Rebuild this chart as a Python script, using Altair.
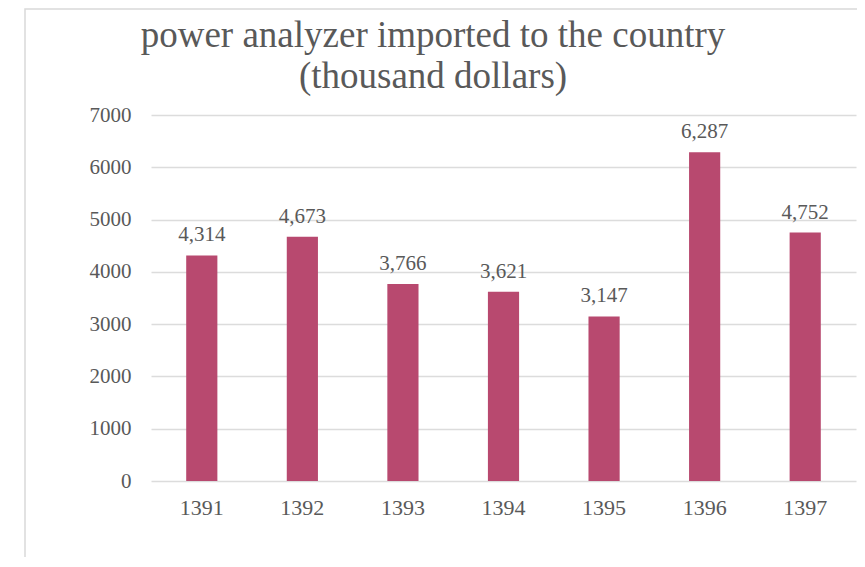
import altair as alt
import pandas as pd

years = ["1391", "1392", "1393", "1394", "1395", "1396", "1397"]
values = [4314, 4673, 3766, 3621, 3147, 6287, 4752]
title_lines = ["power analyzer imported to the country", "(thousand dollars)"]

df = pd.DataFrame({"year": years, "value": values})

FONT = "Liberation Serif"
GRAY = "#595959"

base = alt.Chart(df)

x = alt.X("year:N", sort=years, title=None,
          scale=alt.Scale(paddingInner=0.69, paddingOuter=0.35, round=False),
          axis=alt.Axis(labelAngle=0, labelFont=FONT, labelFontSize=22,
                        labelColor=GRAY, ticks=False, domain=False,
                        labelPadding=16))
y = alt.Y("value:Q", title=None,
          scale=alt.Scale(domain=[0, 7000]),
          axis=alt.Axis(values=[0, 1000, 2000, 3000, 4000, 5000, 6000, 7000],
                        format="d", labelFont=FONT, labelFontSize=21,
                        labelColor=GRAY, ticks=False, domain=False,
                        labelPadding=20, gridColor="#dcdcdc",
                        gridWidth=1.5))

bars = base.mark_bar(color="#b8496f").encode(x=x, y=y)

labels = base.mark_text(font=FONT, fontSize=21, color=GRAY,
                        baseline="alphabetic", dy=-14).encode(
    x=alt.X("year:N", sort=years),
    y="value:Q",
    text=alt.Text("value:Q", format=","),
)

frame = alt.Chart(alt.Data(values=[{}])).mark_rect(
    fill=None, stroke="#d9d9d9", strokeWidth=1.5
).encode(
    x=alt.value(-126), x2=alt.value(760),
    y=alt.value(-106), y2=alt.value(520),
)

title_df = pd.DataFrame({"line": title_lines})
title1 = alt.Chart(title_df).transform_filter(
    alt.datum.line == title_lines[0]
).mark_text(font=FONT, fontSize=37, color=GRAY, baseline="alphabetic",
            align="center").encode(
    text="line:N", x=alt.value(282), y=alt.value(-68))
title2 = alt.Chart(title_df).transform_filter(
    alt.datum.line == title_lines[1]
).mark_text(font=FONT, fontSize=37, color=GRAY, baseline="alphabetic",
            align="center").encode(
    text="line:N", x=alt.value(282), y=alt.value(-27))

chart = alt.layer(frame, bars, labels, title1, title2).properties(
    width=705,
    height=366,
    autosize=alt.AutoSizeParams(type="none"),
    padding={"left": 143, "top": 107, "right": 1, "bottom": 76},
    background="white",
).configure_view(stroke=None)

chart.save("out.html", embed_options={"renderer": "svg", "actions": False})
